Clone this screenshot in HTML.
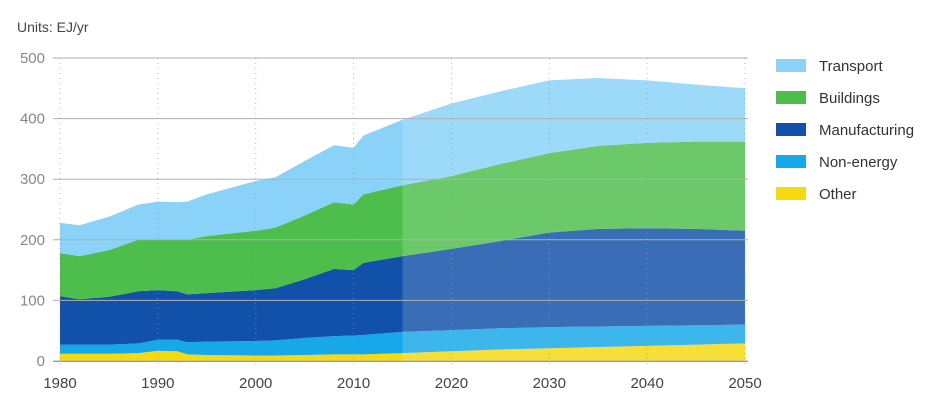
<!DOCTYPE html>
<html><head><meta charset="utf-8"><style>
body{margin:0;background:#fff;font-family:"Liberation Sans",sans-serif;}
svg text{font-family:"Liberation Sans",sans-serif;}
</style></head><body>
<svg width="935" height="403" id="c">
<text x="17" y="32" font-size="14" fill="#444">Units: EJ/yr</text>
</svg>
<script>
const years=[1980,1982,1985,1988,1990,1992,1993,1995,2000,2002,2005,2008,2010,2011,2015,2020,2025,2030,2035,2040,2045,2050];
const other=[12,12,12,13,17,16,11,10,9,9,10,11,11,11,13,16,19,21,23,25,27,29];
const nonEnergy=[15,15,15,16,18,19,20,22,24,25,28,30,31,32,35,35,35,35,34,33,32,31];
const manufacturing=[80,75,79,86,82,80,79,80,84,86,97,111,108,119,125,134,144,156,161,161,159,155];
const buildings=[71,71,77,85,83,85,90,94,98,100,105,110,108,113,117,120,127,131,137,141,144,147];
const transport=[50,51,55,58,63,62,63,69,82,83,90,94,94,97,108,120,120,120,112,103,94,88];
const yTicks=[0,100,200,300,400,500];
const xTicks=[1980,1990,2000,2010,2020,2030,2040,2050];
const seriesNames=["Other","Non-energy","Manufacturing","Buildings","Transport"];
const colors=["#f7d90f","#16a8e8","#1251a9","#4dbe4b","#8ad2f7"];
const histEnd=2015;
const NS="http://www.w3.org/2000/svg";
const svg=document.getElementById('c');
const X=y=>60+(y-1980)*(685/70);
const Y=v=>361-v*0.606;
function el(t,a){const e=document.createElementNS(NS,t);for(const k in a)e.setAttribute(k,a[k]);svg.appendChild(e);return e;}
// areas
const series=[other,nonEnergy,manufacturing,buildings,transport];
let base=years.map(()=>0);
series.forEach((s,i)=>{
  const top=base.map((b,j)=>b+s[j]);
  let d='M'+years.map((y,j)=>X(y)+','+Y(top[j])).join('L');
  for(let j=years.length-1;j>=0;j--)d+='L'+X(years[j])+','+Y(base[j]);
  const p=el('path',{d:d+'Z',fill:colors[i]});
  
  
  base=top;
});
const ov=el('rect',{x:X(histEnd),y:40,width:X(2050)-X(histEnd)+1,height:322,fill:'#fff',opacity:0.17});


// grid
yTicks.forEach(t=>{
  const l=el('line',{x1:53,x2:748,y1:Y(t),y2:Y(t),stroke:'#b0b0b0','stroke-width':1});
  
  
  const tx=el('text',{x:45,y:Y(t)+5,'font-size':15,fill:'#888','text-anchor':'end'});
  tx.textContent=t;
  
  
});
// vertical dotted + x labels
xTicks.forEach(t=>{
  const l=el('line',{x1:X(t),x2:X(t),y1:58,y2:366,stroke:'#999','stroke-width':1,'stroke-dasharray':'1,4',opacity:0.7});
  
  
  const tx=el('text',{x:X(t),y:388,'font-size':15,fill:'#444','text-anchor':'middle'});
  tx.textContent=t;
  
  
});
const ax=el('line',{x1:53,x2:748,y1:361.5,y2:361.5,stroke:'#999','stroke-width':1});


// legend
const order=[4,3,2,1,0];
order.forEach((i,k)=>{
  const y=59+k*32;
  const r=el('rect',{x:776,y:y,width:30,height:13,fill:colors[i]});
  
  
  const t=el('text',{x:819,y:y+12,'font-size':15,fill:'#333'});
  t.textContent=seriesNames[i];
  
  
});
</script>
</body></html>
